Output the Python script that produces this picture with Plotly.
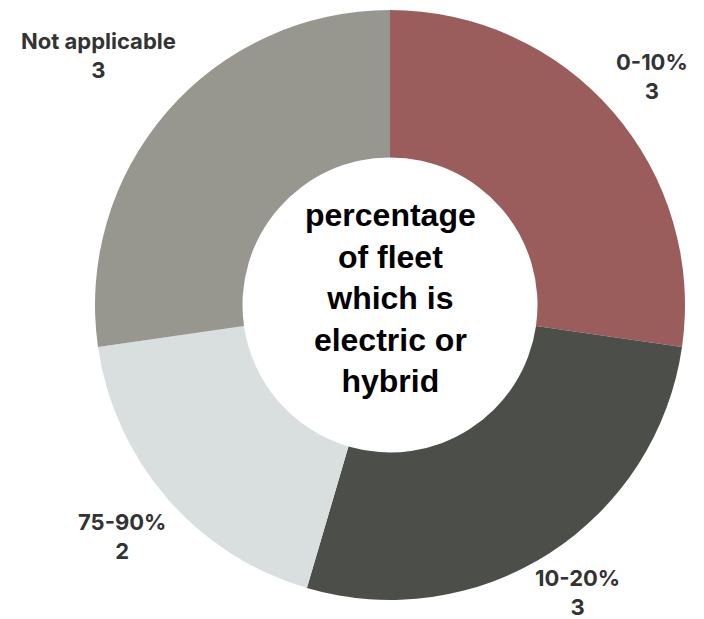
import plotly.graph_objects as go

categories = ["0-10%", "10-20%", "75-90%", "Not applicable"]
counts = [3, 3, 2, 3]
colors = ["#9B5D5B", "#4C4E4A", "#D8DFDE", "#98978F"]
center_title = "percentage<br>of fleet<br>which is<br>electric or<br>hybrid"

# label anchor points (paper coords) for each slice's outside label
label_pos = [(0.926, 0.877), (0.820, 0.043), (0.173, 0.134), (0.140, 0.911)]

W, H = 704, 619
fig = go.Figure(
    go.Pie(
        labels=categories,
        values=counts,
        marker=dict(colors=colors, line=dict(width=0)),
        hole=0.5,
        sort=False,
        direction="clockwise",
        rotation=0,
        textinfo="none",
        hoverinfo="label+value",
        showlegend=False,
        domain=dict(x=[95 / W, 685 / W], y=[(H - 600) / H, (H - 10) / H]),
    )
)

for cat, val, (x, y) in zip(categories, counts, label_pos):
    fig.add_annotation(
        x=x, y=y, xref="paper", yref="paper",
        xanchor="center", yanchor="middle",
        text=f"<b>{cat}<br>{val}</b>",
        showarrow=False,
        font=dict(family="Inter", size=22, color="#333333"),
        align="center",
    )

fig.add_annotation(
    x=390 / W, y=(H - 298) / H, xref="paper", yref="paper",
    xanchor="center", yanchor="middle",
    text=f"<b>{center_title}</b>",
    showarrow=False,
    font=dict(family="Liberation Sans", size=32, color="#000000"),
    align="center",
)

fig.update_layout(
    width=W, height=H,
    margin=dict(l=0, r=0, t=0, b=0),
    paper_bgcolor="white",
    plot_bgcolor="white",
)

fig.write_html("out.html")
